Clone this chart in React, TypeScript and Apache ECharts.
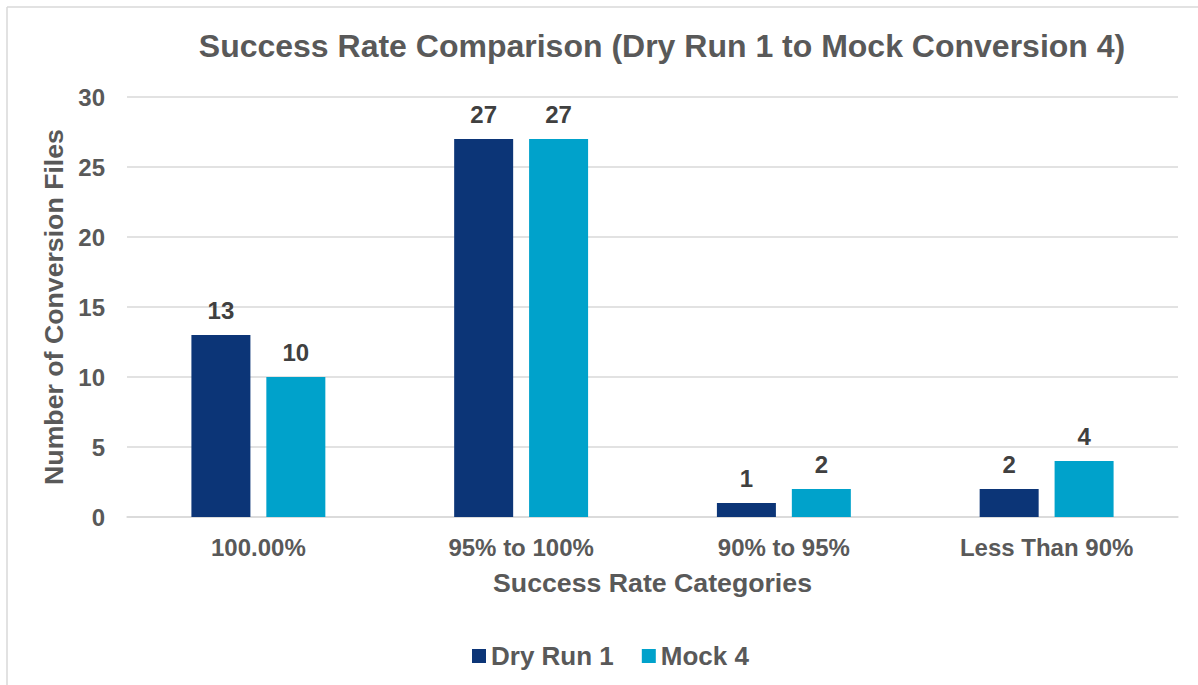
import React, { useEffect, useRef } from "react";
import * as echarts from "echarts";

const categories = ["100.00%", "95% to 100%", "90% to 95%", "Less Than 90%"];
const dryRun1 = [13, 27, 1, 2];
const mock4 = [10, 27, 2, 4];
const seriesNames = ["Dry Run 1", "Mock 4"];
const yTicks = { min: 0, max: 30, interval: 5 };

const FONT = "'Liberation Sans', Arial, sans-serif";
const AXIS_GRAY = "#595959";
const LABEL_GRAY = "#404040";
const GRID = "#d9d9d9";

export default function App() {
  const ref = useRef<HTMLDivElement>(null);
  useEffect(() => {
    document.body.style.margin = "0";
    if (!ref.current) return;
    const chart = echarts.init(ref.current, null, { renderer: "svg" });
    const dataLabel = {
      show: true,
      position: "top",
      distance: 13,
      color: LABEL_GRAY,
      fontFamily: FONT,
      fontWeight: "bold",
      fontSize: 24,
    };
    chart.setOption({
      animation: false,
      backgroundColor: "#ffffff",
      textStyle: { fontFamily: FONT },
      graphic: [
        {
          type: "line",
          shape: { x1: 7, y1: 7, x2: 1198, y2: 7 },
          style: { stroke: GRID, lineWidth: 1.5 },
        },
        {
          type: "line",
          shape: { x1: 7, y1: 7, x2: 7, y2: 685 },
          style: { stroke: GRID, lineWidth: 1.5 },
        },
        {
          type: "text",
          x: 662,
          y: 46,
          style: {
            text: "Success Rate Comparison (Dry Run 1 to Mock Conversion 4)",
            fill: AXIS_GRAY,
            font: `bold 32px ${FONT}`,
            textAlign: "center",
            textVerticalAlign: "middle",
          },
        },
      ],
      grid: { left: 127, right: 20, top: 97, bottom: 168 },
      legend: {
        data: seriesNames,
        left: 467,
        top: 638,
        icon: "rect",
        itemWidth: 14,
        itemHeight: 14,
        itemGap: 28,
        textStyle: {
          color: AXIS_GRAY,
          fontFamily: FONT,
          fontWeight: "bold",
          fontSize: 26,
        },
      },
      xAxis: {
        type: "category",
        data: categories,
        name: "Success Rate Categories",
        nameLocation: "middle",
        nameGap: 52,
        nameTextStyle: {
          color: AXIS_GRAY,
          fontFamily: FONT,
          fontWeight: "bold",
          fontSize: 26.7,
        },
        axisTick: { show: false },
        axisLine: { lineStyle: { color: GRID, width: 1.5 } },
        axisLabel: {
          color: AXIS_GRAY,
          fontFamily: FONT,
          fontWeight: "bold",
          fontSize: 24,
          margin: 18,
        },
      },
      yAxis: {
        type: "value",
        min: yTicks.min,
        max: yTicks.max,
        interval: yTicks.interval,
        name: "Number of Conversion Files",
        nameLocation: "middle",
        nameGap: 57,
        nameTextStyle: {
          color: AXIS_GRAY,
          fontFamily: FONT,
          fontWeight: "bold",
          fontSize: 26.7,
        },
        axisLine: { show: false },
        axisTick: { show: false },
        splitLine: { lineStyle: { color: GRID, width: 1.5 } },
        axisLabel: {
          color: AXIS_GRAY,
          fontFamily: FONT,
          fontWeight: "bold",
          fontSize: 24,
          margin: 22,
        },
      },
      series: [
        {
          name: seriesNames[0],
          type: "bar",
          data: dryRun1,
          barWidth: 59,
          barGap: "27%",
          itemStyle: { color: "#0c3577" },
          label: dataLabel,
        },
        {
          name: seriesNames[1],
          type: "bar",
          data: mock4,
          barWidth: 59,
          barGap: "27%",
          itemStyle: { color: "#00a2cb" },
          label: dataLabel,
        },
      ],
    });
    return () => chart.dispose();
  }, []);
  return (
    <div
      ref={ref}
      style={{ position: "absolute", left: 0, top: 0, width: 1198, height: 685 }}
    />
  );
}
